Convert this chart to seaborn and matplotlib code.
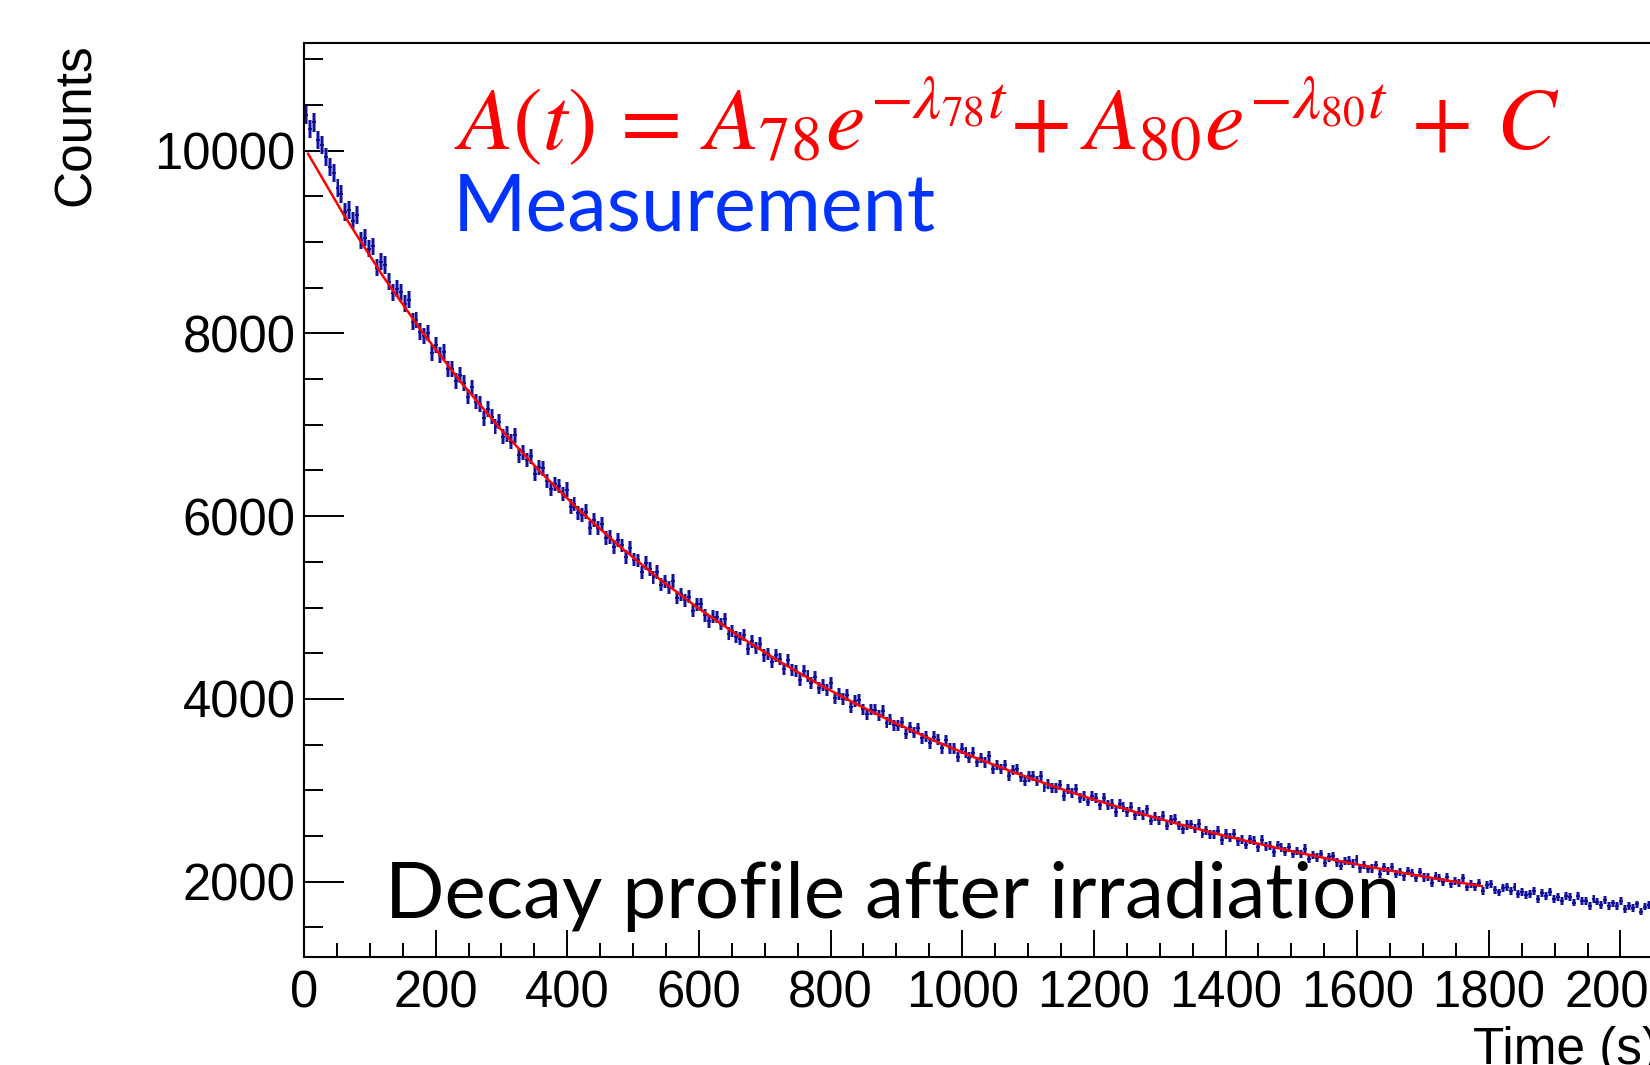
import numpy as np
import pandas as pd
import matplotlib
matplotlib.use("Agg")
import matplotlib.pyplot as plt
import seaborn as sns
from matplotlib.ticker import MultipleLocator

# histogram: 6 s bins starting at t = 0, one row per minute
bin_width = 6
counts = [
    10390, 10240, 10310, 10120, 10060, 9930, 9820, 9760, 9590, 9530,
    9330, 9350, 9235, 9300, 9020, 9050, 8930, 8955, 8720, 8785,
    8750, 8565, 8445, 8490, 8450, 8325, 8370, 8130, 8145, 8020,
    7975, 8005, 7785, 7870, 7760, 7800, 7610, 7610, 7480, 7550,
    7460, 7310, 7410, 7255, 7230, 7070, 7175, 7090, 6980, 7035,
    6870, 6900, 6815, 6885, 6665, 6700, 6615, 6655, 6465, 6535,
    6525, 6385, 6295, 6350, 6330, 6240, 6290, 6105, 6130, 6035,
    6015, 6050, 5870, 5955, 5870, 5915, 5760, 5770, 5665, 5735,
    5680, 5555, 5650, 5525, 5515, 5385, 5485, 5420, 5330, 5390,
    5250, 5285, 5220, 5290, 5105, 5145, 5080, 5120, 4965, 5035,
    5035, 4915, 4850, 4900, 4895, 4820, 4870, 4715, 4745, 4675,
    4660, 4700, 4545, 4630, 4560, 4605, 4475, 4490, 4405, 4475,
    4435, 4330, 4420, 4315, 4310, 4205, 4300, 4250, 4175, 4235,
    4115, 4155, 4100, 4170, 4010, 4055, 4000, 4045, 3910, 3975,
    3985, 3885, 3830, 3880, 3880, 3820, 3870, 3740, 3770, 3710,
    3705, 3745, 3615, 3690, 3630, 3680, 3570, 3590, 3515, 3585,
    3550, 3460, 3545, 3460, 3460, 3365, 3455, 3415, 3355, 3410,
    3310, 3350, 3305, 3370, 3230, 3275, 3230, 3275, 3155, 3220,
    3235, 3145, 3100, 3150, 3155, 3100, 3155, 3035, 3070, 3020,
    3020, 3055, 2940, 3015, 2965, 3015, 2915, 2935, 2875, 2940,
    2915, 2835, 2915, 2840, 2845, 2760, 2845, 2815, 2760, 2815,
    2725, 2765, 2730, 2790, 2665, 2710, 2670, 2715, 2610, 2675,
    2685, 2610, 2570, 2620, 2625, 2580, 2630, 2525, 2560, 2515,
    2515, 2555, 2450, 2520, 2480, 2525, 2440, 2460, 2405, 2465,
    2445, 2375, 2455, 2385, 2390, 2320, 2400, 2370, 2325, 2375,
    2300, 2335, 2300, 2360, 2250, 2290, 2260, 2300, 2205, 2265,
    2280, 2210, 2175, 2225, 2230, 2195, 2240, 2145, 2180, 2140,
    2145, 2180, 2085, 2155, 2115, 2160, 2080, 2105, 2055, 2115,
    2095, 2035, 2105, 2045, 2050, 1985, 2060, 2035, 1995, 2045,
    1975, 2010, 1980, 2040, 1935, 1975, 1945, 1985, 1900, 1960,
    1975, 1910, 1880, 1925, 1935, 1900, 1945, 1860, 1890, 1855,
    1860, 1895, 1810, 1875, 1840, 1885, 1810, 1835, 1790, 1845,
    1830, 1770, 1840, 1785, 1790, 1730, 1805, 1780, 1745, 1795,
    1730, 1760, 1735, 1790, 1700, 1735, 1710, 1750, 1670, 1725,
    1740, 1680, 1655, 1700, 1705, 1675, 1720, 1640, 1670, 1640,
]

# fitted curve
fit_time = [6, 60, 120, 180, 240, 300, 360, 420, 480, 540, 600, 660, 720,
            780, 840, 900, 960, 1020, 1080, 1140, 1200, 1260, 1320, 1380,
            1440, 1500, 1560, 1620, 1680, 1740, 1790]
fit_counts = [9971, 9305, 8628, 8014, 7454, 6944, 6479, 6054, 5667, 5312,
              4988, 4691, 4419, 4169, 3939, 3729, 3535, 3355, 3191, 3038,
              2897, 2767, 2646, 2534, 2430, 2333, 2243, 2159, 2081, 2007,
              1950]

formula = (r"$A(t)\,=\,A_{78}e^{-\lambda_{78}t}\!+A_{80}e^{-\lambda_{80}t}"
           r"\,+\,C$")

sns.set_style("ticks")
plt.rcParams["font.family"] = ["Liberation Sans", "DejaVu Sans"]
plt.rcParams["mathtext.fontset"] = "stix"

counts = np.array(counts, dtype=float)
centers = np.arange(len(counts)) * bin_width + bin_width / 2
errors = np.sqrt(counts)
df = pd.DataFrame({"time": centers, "counts": counts, "err": errors})

fig = plt.figure(figsize=(16.5, 10.65), dpi=100)
ax = fig.add_axes([0.1842, 0.1011, 0.9575, 0.8585])

# light error boxes + dark error crosses, ROOT style
ax.bar(df["time"], 2 * df["err"], bottom=df["counts"] - df["err"],
       width=bin_width, color="#6f6fdc", alpha=0.85, linewidth=0)
ax.errorbar(df["time"], df["counts"], xerr=bin_width / 2, yerr=df["err"],
            fmt="none", ecolor="#10108f", elinewidth=1.4, capsize=0)
sns.lineplot(x=fit_time, y=fit_counts, color="red", linewidth=1.8, ax=ax)

ax.set_xlim(0, 2400)
ax.set_ylim(1170, 11180)
ax.xaxis.set_major_locator(MultipleLocator(200))
ax.xaxis.set_minor_locator(MultipleLocator(50))
ax.yaxis.set_major_locator(MultipleLocator(2000))
ax.yaxis.set_minor_locator(MultipleLocator(500))

for side in ["left", "bottom", "top", "right"]:
    ax.spines[side].set_linewidth(1.5)
    ax.spines[side].set_color("black")

ax.tick_params(axis="y", which="major", direction="in", length=28.8,
               width=1.4, labelsize=36.5, pad=6, colors="black")
ax.tick_params(axis="y", which="minor", direction="in", length=13.7,
               width=1.4, colors="black")
ax.tick_params(axis="x", which="major", direction="in", length=19.4,
               width=1.4, labelsize=36.5, pad=8.5, colors="black")
ax.tick_params(axis="x", which="minor", direction="in", length=10,
               width=1.4, colors="black")
ax.set_xlabel("")
ax.set_ylabel("")

fig.text(0.0461, 0.9596, "Counts", rotation=90, ha="center", va="top",
         fontsize=37, color="black")
fig.text(1473 / 1650, 1 - 1026 / 1065, "Time (s)", ha="left", va="top",
         fontsize=37, color="black")

fig.text(454 / 1650, 1 - 149 / 1065, formula, color="red", fontsize=64,
         ha="left", va="baseline")
fig.text(453 / 1650, 1 - 231 / 1065, "Measurement", color="#0033ff",
         fontsize=57, family=["Lato", "DejaVu Sans"], ha="left", va="baseline")
fig.text(385 / 1650, 1 - 918 / 1065, "Decay profile after irradiation",
         color="black", fontsize=56.3, family=["Lato", "DejaVu Sans"],
         ha="left", va="baseline")

fig.savefig("out.png", dpi=100)
